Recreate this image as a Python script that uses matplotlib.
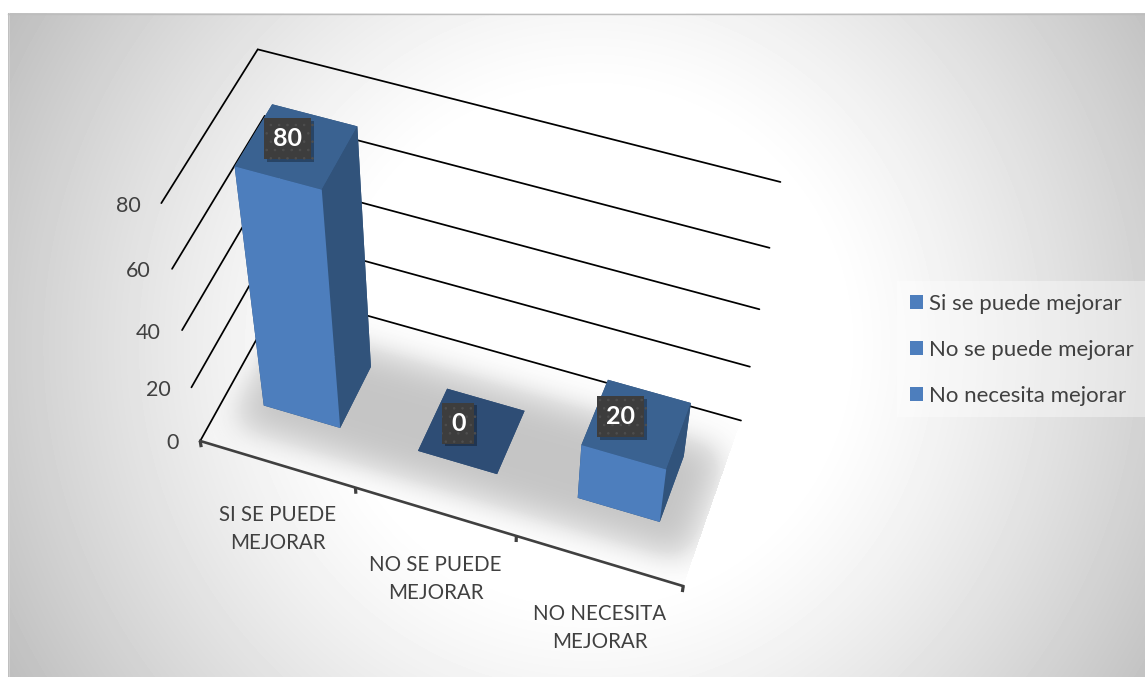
import numpy as np
import matplotlib
matplotlib.use("Agg")
import matplotlib.pyplot as plt
from matplotlib.patches import Patch, Rectangle
from matplotlib.path import Path
from matplotlib import patheffects as pe
from mpl_toolkits.mplot3d import Axes3D  # noqa: F401

# ---- data ----
categories = ["SI SE PUEDE\nMEJORAR", "NO SE PUEDE\nMEJORAR", "NO NECESITA\nMEJORAR"]
series_names = ["Si se puede mejorar", "No se puede mejorar", "No necesita mejorar"]
values = [80, 0, 20]
value_ticks = [0, 20, 40, 60, 80]

# ---- styling ----
WIDTH, HEIGHT = 1145, 677
FRONT, SIDE, TOP, FLAT = "#4d7ebd", "#31537b", "#3a6291", "#2e4d75"
TEXT = "#404040"
label_shift = [-8.5, -13.5, -16]
category_drop = [64.5, 67, 67]
plt.rcParams["font.family"] = ["Lato", "DejaVu Sans"]
plt.rcParams["hatch.linewidth"] = 0.6

# Camera of the chart: (category, depth, value, 1) -> homogeneous pixels
CAMERA = np.array([
    [1.49006773e+02, 9.98865954e+01, -7.42092789e-01, 2.00189117e+02],
    [3.80838019e+01, -1.31234229e+02, -3.29534507e+00, 4.40965912e+02],
    [-1.75641259e-02, 6.09327306e-02, -1.58749427e-03, 1.00000000e+00],
])


def to_pixels(x, y, z):
    h = CAMERA @ np.array([x, y, z, 1.0])
    return h[0] / h[2], h[1] / h[2]


def fig_xy(u, v):
    return u / WIDTH, 1 - v / HEIGHT


def box_blur(a, r, passes=3):
    for axis in (0, 1):
        for _ in range(passes):
            pad = [(0, 0), (0, 0)]
            pad[axis] = (r + 1, r)
            c = np.cumsum(np.pad(a, pad, mode="edge"), axis=axis)
            a = (np.take(c, range(2 * r + 1, c.shape[axis]), axis=axis)
                 - np.take(c, range(0, c.shape[axis] - 2 * r - 1), axis=axis)) / (2 * r + 1)
    return a


def polygon_mask(points):
    yy, xx = np.mgrid[0:HEIGHT, 0:WIDTH]
    grid = np.c_[xx.ravel() + 0.5, yy.ravel() + 0.5]
    return Path(points).contains_points(grid).reshape(HEIGHT, WIDTH).astype(float)


fig = plt.figure(figsize=(WIDTH / 100, HEIGHT / 100), dpi=100, facecolor="white")

# ---- chart-area backdrop: circular vignette with a white centre ----
bg = fig.add_axes([0, 0, 1, 1], zorder=-1)
bg.axis("off")
yy, xx = np.mgrid[0:HEIGHT, 0:WIDTH]
dist = np.hypot(xx - 590, yy - 345)
shade = 1 - 0.24 * np.clip((dist - 250) / 400, 0, None) ** 1.2
shade[:, :8] = 1
shade[:13, :] = 1
bg.imshow(shade, cmap="gray", vmin=0, vmax=1, extent=(0, WIDTH, HEIGHT, 0),
          aspect="auto", interpolation="nearest")
bg.plot([8.5, 8.5], [13, HEIGHT], color="#cfcfcf", lw=0.8)
bg.plot([8, WIDTH], [13.5, 13.5], color="#bdbdbd", lw=1.0)

# ---- floor: pale plate with a blurred shadow clipped to it ----
n_cat = len(categories)
floor = polygon_mask([to_pixels(0, 0, 0), to_pixels(n_cat, 0, 0),
                      to_pixels(n_cat, 1, 0), to_pixels(0, 1, 0)])
inner = polygon_mask([to_pixels(0.10, 0.13, 0), to_pixels(n_cat - 0.02, 0.13, 0),
                      to_pixels(n_cat - 0.02, 0.81, 0), to_pixels(0.10, 0.81, 0)])
soft = box_blur(inner, 17)
rgba = np.zeros((HEIGHT, WIDTH, 4))
rgba[..., :3] = (1 - soft * 0.225)[..., None]
rgba[..., 3] = floor * np.clip(0.45 + soft, 0, 1)
bg.imshow(rgba, extent=(0, WIDTH, HEIGHT, 0), aspect="auto", interpolation="nearest")

# ---- legend plate ----
bg.add_patch(Rectangle((897, 281), 248, 136, facecolor="white", alpha=0.38, edgecolor="none"))
bg.set_xlim(0, WIDTH)
bg.set_ylim(HEIGHT, 0)

# ---- 3D axes driven by the chart's camera ----
ax = fig.add_axes([0, (HEIGHT - WIDTH) / 2 / HEIGHT, 1, WIDTH / HEIGHT],
                  projection="3d", computed_zorder=False, proj_type="ortho")
ax.set_axis_off()
ax.patch.set_visible(False)
ax.apply_aspect()
inv = ax.transData.inverted()
(x0, y0), (x1, y1) = inv.transform([(0, HEIGHT), (WIDTH, 0)])
sx, ox = (x1 - x0) / WIDTH, x0
sy, oy = (y1 - y0) / HEIGHT, y0
M = np.vstack([
    sx * CAMERA[0] + ox * CAMERA[2],
    sy * CAMERA[1] + oy * CAMERA[2],
    [-0.1, 1.0, -0.001, 0.0],
    CAMERA[2],
])
ax.get_proj = lambda: M

# gridlines: left wall then back wall
for v in value_ticks:
    ax.plot([0, 0, n_cat], [0, 1, 1], [v, v, v], color="black", lw=1.25, zorder=2,
            solid_joinstyle="miter", solid_capstyle="round")

# category axis with ticks
ax.plot([0, n_cat], [0, 0], [0, 0], color=TEXT, lw=1.9, zorder=2, solid_capstyle="projecting")
for i in range(n_cat + 1):
    ax.plot([i, i], [0, 0], [0, -2.4], color=TEXT, lw=2.3, zorder=2, solid_capstyle="butt")

# bars: faces in the order bottom, top, front, back, left, right
bar_x = np.arange(n_cat) + 0.25
bar_colors = []
for v in values:
    top = TOP if v > 0 else FLAT
    bottom = top if v == 0 else SIDE
    bar_colors += [bottom, top, FRONT, SIDE, SIDE, SIDE]
ax.bar3d(bar_x, np.full(n_cat, 0.3), np.zeros(n_cat), 0.5, 0.4, values,
         color=bar_colors, shade=False, zorder=3, edgecolor="none")

# ---- value-axis labels ----
for v in value_ticks:
    u, w = to_pixels(0, 0, v)
    fig.text(*fig_xy(u - 21, w + 2.5), str(v), ha="right", va="center", color=TEXT, fontsize=15.5)

# ---- category labels below their ticks ----
for i, label in enumerate(categories):
    u, w = to_pixels(i + 0.5, 0, 0)
    fig.text(*fig_xy(u + 0.5, w + category_drop[i]), label, ha="center", va="center", color=TEXT,
             fontsize=14.8, linespacing=1.5, multialignment="center")

# ---- data labels on the top of each bar ----
for i, v in enumerate(values):
    u, w = to_pixels(i + 0.5, 0.5, v)
    t = fig.text(*fig_xy(u + label_shift[i], w - 7.5), str(v), ha="center", va="center", color="white",
                 fontsize=18, fontweight="bold", zorder=6,
                 bbox=dict(boxstyle="square,pad=0.36", facecolor="#3d3d3d", edgecolor="#4e4e4e",
                           hatch="..", linewidth=0))
    t.get_bbox_patch().set_path_effects(
        [pe.SimplePatchShadow(offset=(2, -2), alpha=0.3, shadow_rgbFace="black"), pe.Normal()])

# ---- legend ----
fig.legend(handles=[Patch(facecolor=FRONT, edgecolor="none", label=s) for s in series_names],
           loc="upper left", bbox_to_anchor=fig_xy(910, 294), frameon=False, fontsize=16,
           labelcolor=TEXT, handlelength=0.6, handleheight=0.6, handletextpad=0.25,
           labelspacing=1.17, borderpad=0, borderaxespad=0)

fig.savefig("out.png", dpi=100)
